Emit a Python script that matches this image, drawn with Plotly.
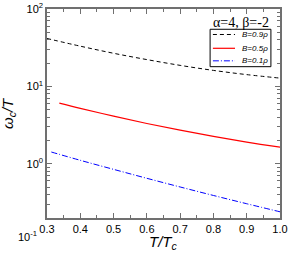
import plotly.graph_objects as go

x_black = [0.30, 0.40, 0.50, 0.60, 0.70, 0.80, 0.90, 1.00]
y_black = [41.6, 33.1, 26.8, 22.2, 18.7, 16.1, 14.2, 12.8]

x_red = [0.337, 0.40, 0.50, 0.60, 0.70, 0.80, 0.90, 1.00]
y_red = [6.07, 5.20, 4.13, 3.32, 2.72, 2.26, 1.91, 1.64]

x_blue = [0.313, 0.40, 0.50, 0.60, 0.70, 0.80, 0.90, 1.00]
y_blue = [1.42, 1.11, 0.848, 0.650, 0.502, 0.390, 0.305, 0.240]

names = ["B=0.9ρ", "B=0.5ρ", "B=0.1ρ"]

x_ticks = [0.3, 0.4, 0.5, 0.6, 0.7, 0.8, 0.9, 1.0]
x_ticktext = ["0.3", "0.4", "0.5", "0.6", "0.7", "0.8", "0.9", "1.0"]
x_minor = [0.35, 0.45, 0.55, 0.65, 0.75, 0.85, 0.95]
y_ticks = [1, 10, 100]
y_ticktext = ["10<sup>0</sup>", "10<sup>1</sup>", "10<sup>2</sup>"]
y_minor = [0.2, 0.3, 0.4, 0.5, 0.6, 0.7, 0.8, 0.9,
           2, 3, 4, 5, 6, 7, 8, 9,
           20, 30, 40, 50, 60, 70, 80, 90]

colors = ["black", "red", "blue"]
dashes = ["4px,3px", "solid", "6px,2px,1px,2px"]
widths = [1, 1.2, 1]

fig = go.Figure()
for xs, ys, nm, c, d, w in zip([x_black, x_red, x_blue], [y_black, y_red, y_blue],
                               names, colors, dashes, widths):
    fig.add_trace(go.Scatter(x=xs, y=ys, mode="lines", name=nm,
                             line=dict(color=c, width=w, dash=d, shape="spline")))

axcol = "#707070"
fig.update_layout(
    width=289, height=256,
    margin=dict(l=47, r=9, t=9, b=38, autoexpand=False),
    paper_bgcolor="white", plot_bgcolor="white",
    font=dict(family="Liberation Sans, Arial", size=11, color="black"),
    showlegend=False,
    xaxis=dict(range=[0.3, 1.0], tickvals=x_ticks, ticktext=x_ticktext,
               ticks="inside", ticklen=5, tickcolor=axcol, showline=True,
               linecolor=axcol, linewidth=1.5, mirror="ticks", showgrid=False,
               zeroline=False, automargin=False, ticklabeloverflow="allow",
               minor=dict(ticks="inside", ticklen=3, tickcolor=axcol,
                          tickvals=x_minor, showgrid=False)),
    yaxis=dict(type="log", range=[-0.7, 2], tickvals=y_ticks, ticktext=y_ticktext,
               ticks="inside", ticklen=5, tickcolor=axcol, showline=True,
               linecolor=axcol, linewidth=1.5, mirror="ticks", showgrid=False,
               zeroline=False, automargin=False, ticklabeloverflow="allow",
               minor=dict(ticks="inside", ticklen=3, tickcolor=axcol,
                          tickvals=y_minor, showgrid=False)),
)

# axis titles
fig.add_annotation(text="<i>T/T<sub>c</sub></i>", xref="paper", yref="paper",
                   x=0.5, y=-0.115, xanchor="center", yanchor="middle", showarrow=False,
                   font=dict(size=15))
fig.add_annotation(text="<i>ω<sub>c</sub>/T</i>", xref="paper", yref="paper",
                   x=-0.165, y=0.5, xanchor="center", yanchor="middle", showarrow=False,
                   textangle=-90, font=dict(size=15))

fig.add_annotation(text="α=4, β=-2", xref="paper", yref="paper", x=0.96, y=0.935,
                   xanchor="right", yanchor="middle", showarrow=False,
                   font=dict(family="Liberation Serif", size=14))
fig.add_annotation(text="10<sup>-1</sup>", xref="paper", yref="paper", x=-0.035, y=-0.085,
                   xanchor="right", yanchor="middle", showarrow=False,
                   font=dict(size=11))

# custom legend box
fig.add_shape(type="rect", xref="paper", yref="paper", x0=0.70, x1=0.961, y0=0.724, y1=0.903,
              line=dict(color="black", width=1), fillcolor="white", layer="above")
leg_y = [0.878, 0.812, 0.752]
for nm, c, d, w, yy in zip(names, colors, dashes, widths, leg_y):
    fig.add_shape(type="line", xref="paper", yref="paper", x0=0.712, x1=0.807, y0=yy, y1=yy,
                  line=dict(color=c, width=w, dash=d), layer="above")
    fig.add_annotation(text="<i>" + nm + "</i>", xref="paper", yref="paper", x=0.83, y=yy,
                       xanchor="left", yanchor="middle", showarrow=False,
                       font=dict(size=8))

fig.write_html("out.html", config={"displayModeBar": False},
               post_script="document.body.style.margin='0';")
